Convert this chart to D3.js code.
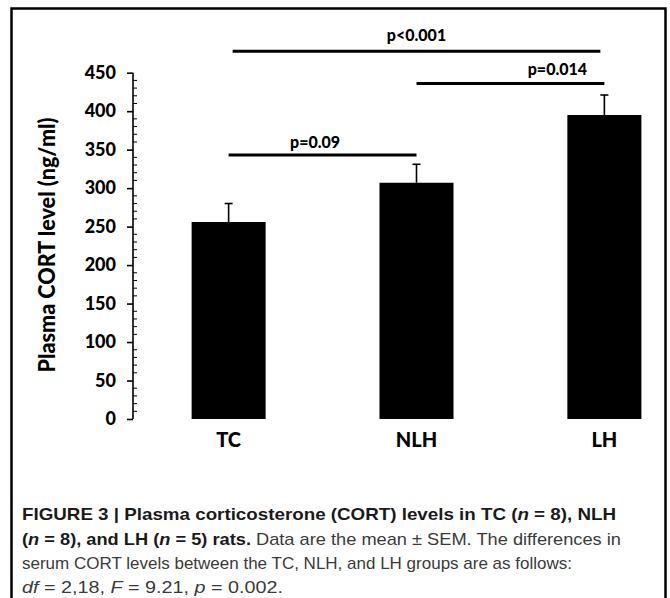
<!DOCTYPE html>
<html><head><meta charset="utf-8">
<script src="https://cdn.jsdelivr.net/npm/d3@7"></script>
<style>html,body{margin:0;padding:0;background:#fff;} svg{display:block;}</style>
</head><body>
<script>
// ---- data ----
const categories = ["TC", "NLH", "LH"];
const means = [256, 307, 395];
const sem = [24, 24, 26];
const yTicks = [0, 50, 100, 150, 200, 250, 300, 350, 400, 450];
const sigPairs = [["TC", "NLH"], ["NLH", "LH"], ["TC", "LH"]];
const sigLevels = [343, 436, 478];
const sigLabels = ["p=0.09", "p=0.014", "p<0.001"];
const yTitle = "Plasma  CORT level (ng/ml)";

// ---- layout ----
const W = 670, H = 598;
const sigLabelFrac = [0.46, 0.75, 0.5];
const sigInset = [0, 0, 4];
const sigGap = [7, 8, 10];

const svg = d3.select("body").append("svg").attr("width", W).attr("height", H);

svg.append("rect").attr("x", 11.5).attr("y", 8.5).attr("width", 654).attr("height", 640)
  .attr("fill", "none").attr("stroke", "#000").attr("stroke-width", 2.5);

const x = d3.scaleBand().domain(categories).range([133, 700]).paddingInner(0.606).paddingOuter(0.312);
const y = d3.scaleLinear().domain([0, 450]).range([419, 72.7]);

const font = "Lato, 'Open Sans', sans-serif";

// bars
svg.selectAll("rect.bar").data(categories).enter().append("rect").attr("class", "bar")
  .attr("x", d => x(d)).attr("width", x.bandwidth())
  .attr("y", (d, i) => y(means[i])).attr("height", (d, i) => y(0) - y(means[i]))
  .attr("fill", "#000");

// error bars (upper only)
const eb = svg.append("g").attr("stroke", "#000").attr("stroke-width", 1.6);
categories.forEach((c, i) => {
  const cx = x(c) + x.bandwidth() / 2;
  eb.append("line").attr("x1", cx).attr("x2", cx).attr("y1", y(means[i])).attr("y2", y(means[i] + sem[i]));
  eb.append("line").attr("x1", cx - 4).attr("x2", cx + 4).attr("y1", y(means[i] + sem[i])).attr("y2", y(means[i] + sem[i]));
});

// y axis
const yAxis = d3.axisLeft(y).tickValues(yTicks).tickSize(6).tickPadding(11);
const ga = svg.append("g").attr("transform", "translate(133,0)").call(yAxis);
ga.select(".domain").attr("stroke-width", 1.6).attr("d", `M0,${y(0)}V${y(450)}`);
ga.selectAll(".tick line").attr("stroke-width", 1.6);
ga.selectAll(".tick text").attr("font-family", font).attr("font-weight", 900).attr("font-size", 18).attr("fill", "#000");
// minor ticks
const minor = d3.range(0, 451, 10).filter(v => v % 50 !== 0);
ga.selectAll(".minor").data(minor).enter().append("line").attr("class", "minor")
  .attr("x1", 0).attr("x2", 4).attr("y1", d => y(d)).attr("y2", d => y(d)).attr("stroke", "#000").attr("stroke-width", 1);

// x labels
const xAxis = d3.axisBottom(x).tickSize(0).tickPadding(14);
const gx = svg.append("g").attr("transform", `translate(0,${y(0)})`).call(xAxis);
gx.select(".domain").remove();
gx.selectAll(".tick text").attr("font-family", font).attr("font-weight", 900).attr("font-size", 20).attr("fill", "#000");

// y title
svg.append("text").attr("transform", "translate(55,245) rotate(-90)").attr("text-anchor", "middle")
  .attr("font-family", font).attr("font-weight", 900).attr("font-size", 22).attr("fill", "#000")
  .attr("textLength", 255).attr("lengthAdjust", "spacingAndGlyphs")
  .text(yTitle);

// significance lines
sigPairs.forEach((p, i) => {
  const x1 = x(p[0]) + x.bandwidth() / 2 + sigInset[i];
  const x2 = x(p[1]) + x.bandwidth() / 2 - sigInset[i];
  const yy = y(sigLevels[i]);
  svg.append("line").attr("x1", x1).attr("x2", x2).attr("y1", yy).attr("y2", yy)
    .attr("stroke", "#000").attr("stroke-width", 3);
  svg.append("text").attr("x", x1 + (x2 - x1) * sigLabelFrac[i]).attr("y", yy - sigGap[i])
    .attr("text-anchor", "middle").attr("font-family", font).attr("font-weight", 900)
    .attr("font-size", 16).attr("fill", "#000").text(sigLabels[i]);
});

// caption
const capFont = "'Liberation Sans', Arial, sans-serif";
const capLines = [
  { w: 594, parts: [["FIGURE 3 | Plasma corticosterone (CORT) levels in TC (", "b"], ["n", "bi"], [" = 8), NLH", "b"]] },
  { w: 599, parts: [["(", "b"], ["n", "bi"], [" = 8), and LH (", "b"], ["n", "bi"], [" = 5) rats.", "b"], [" Data are the mean \u00B1 SEM. The differences in", "r"]] },
  { w: 550, parts: [["serum CORT levels between the TC, NLH, and LH groups are as follows:", "r"]] },
  { w: 261, parts: [["df", "i"], [" = 2,18, ", "r"], ["F", "i"], [" = 9.21, ", "r"], ["p", "i"], [" = 0.002.", "r"]] }
];
const capY = [520, 545, 569, 593];
capLines.forEach((ln, i) => {
  const t = svg.append("text").attr("x", 22).attr("y", capY[i]).attr("font-family", capFont)
    .attr("font-size", 17).attr("textLength", ln.w).attr("lengthAdjust", "spacingAndGlyphs");
  ln.parts.forEach(([s, st]) => {
    t.append("tspan").text(s)
      .attr("font-weight", st.includes("b") ? 700 : 400)
      .attr("font-style", st.includes("i") ? "italic" : "normal")
      .attr("fill", st.includes("b") ? "#1a1a1a" : "#3a3a3a");
  });
});
</script>
</body></html>
